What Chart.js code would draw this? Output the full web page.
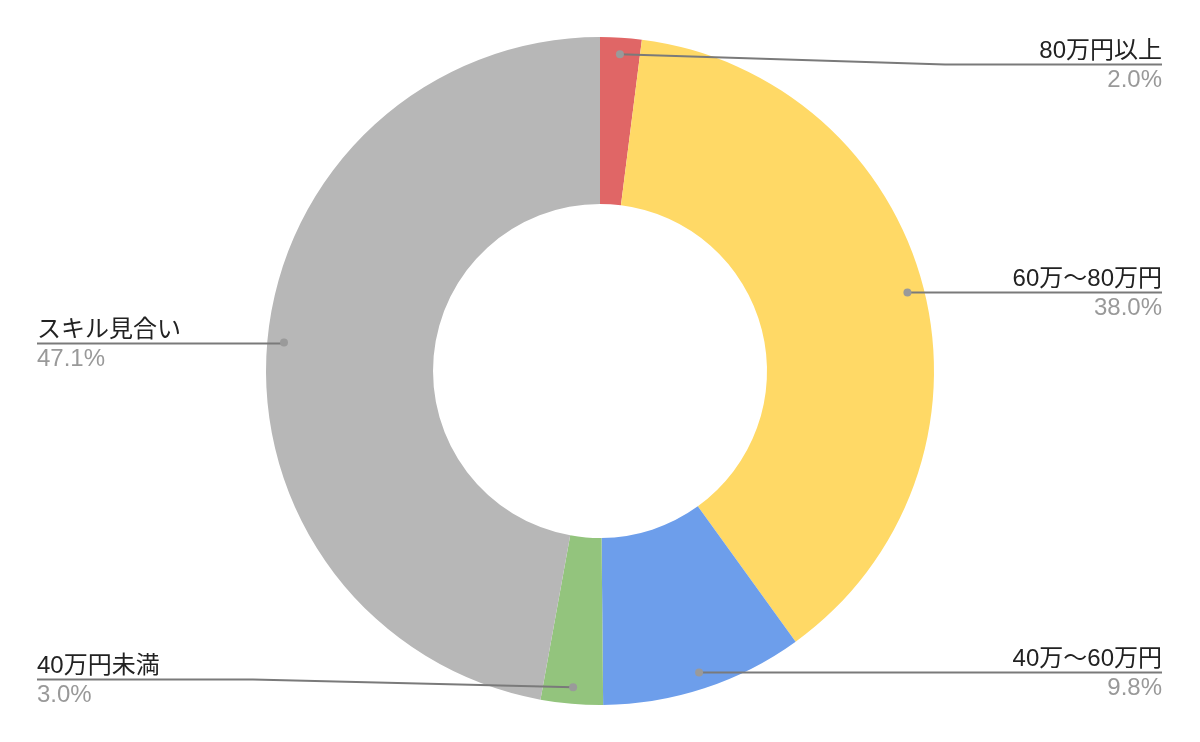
<!DOCTYPE html>
<html>
<head>
<meta charset="utf-8">
<script src="https://cdn.jsdelivr.net/npm/chart.js@4"></script>
<style>
html,body{margin:0;padding:0;background:#fff;}
#wrap{width:1200px;height:742px;position:relative;}
</style>
</head>
<body>
<div id="wrap"><canvas id="c" width="1200" height="742"></canvas></div>
<script>
const categories = ['80万円以上', '60万～80万円', '40万～60万円', '40万円未満', 'スキル見合い'];
const values = [2.0, 38.0, 9.8, 3.0, 47.1];
const colors = ['#E06666', '#FFD966', '#6D9EEB', '#93C47D', '#B7B7B7'];

// label layout: side, optional line y offset from dot, bend x
const labelLayout = [
  {side: 'right', lineDy: 10, bendX: 945},
  {side: 'right', lineDy: 0},
  {side: 'right', lineDy: 0},
  {side: 'left', lineDy: -8, bendX: 253},
  {side: 'left', lineDy: 0}
];

const FONT = '"Liberation Sans", Arial, "Noto Sans CJK JP", sans-serif';

const leaderPlugin = {
  id: 'leaders',
  afterDatasetsDraw(chart) {
    const ctx = chart.ctx;
    const meta = chart.getDatasetMeta(0);
    const ds = chart.data.datasets[0];
    meta.data.forEach((arc, i) => {
      const p = arc.getProps(['x', 'y', 'startAngle', 'endAngle', 'outerRadius'], true);
      const mid = (p.startAngle + p.endAngle) / 2;
      const r = p.outerRadius * 0.95;
      const dx = p.x + Math.cos(mid) * r;
      const dy = p.y + Math.sin(mid) * r;
      const lay = labelLayout[i];
      const ly = Math.round(dy + (lay.lineDy || 0)) + 0.5;
      const endX = lay.side === 'right' ? 1162 : 37;
      ctx.save();
      ctx.strokeStyle = '#7a7a7a';
      ctx.lineWidth = 2;
      ctx.beginPath();
      ctx.moveTo(dx, dy);
      if (lay.bendX !== undefined) {
        ctx.lineTo(lay.bendX, ly);
      } else {
        ctx.lineTo(dx, ly);
      }
      ctx.lineTo(endX, ly);
      ctx.stroke();
      ctx.fillStyle = '#9a9a9a';
      ctx.beginPath();
      ctx.arc(dx, dy, 4, 0, Math.PI * 2);
      ctx.fill();
      ctx.font = '24px ' + FONT;
      ctx.textAlign = lay.side === 'right' ? 'right' : 'left';
      ctx.textBaseline = 'alphabetic';
      ctx.fillStyle = '#222222';
      ctx.fillText(chart.data.labels[i], endX, ly - 7);
      ctx.fillStyle = '#999999';
      ctx.fillText(ds.data[i].toFixed(1) + '%', endX, ly + 22);
      ctx.restore();
    });
  }
};

new Chart(document.getElementById('c'), {
  type: 'doughnut',
  data: {
    labels: categories,
    datasets: [{
      data: values,
      backgroundColor: colors,
      borderWidth: 0
    }]
  },
  options: {
    responsive: false,
    animation: false,
    cutout: '50%',
    layout: {padding: {top: 37, bottom: 37, left: 0, right: 0}},
    plugins: {
      legend: {display: false},
      tooltip: {enabled: false}
    }
  },
  plugins: [leaderPlugin]
});
</script>
</body>
</html>
